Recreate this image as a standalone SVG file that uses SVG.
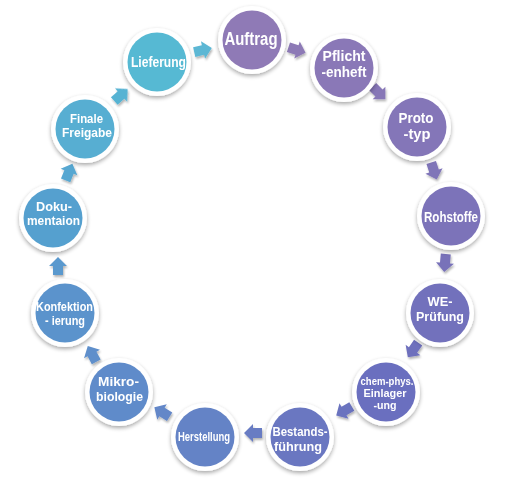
<svg xmlns="http://www.w3.org/2000/svg" width="510" height="490" viewBox="0 0 510 490">
<defs>
<filter id="sh" x="-30%" y="-30%" width="160%" height="170%">
<feGaussianBlur in="SourceAlpha" stdDeviation="2"/>
<feOffset dx="0" dy="2" result="b"/>
<feComponentTransfer><feFuncA type="linear" slope="0.35"/></feComponentTransfer>
<feMerge><feMergeNode/><feMergeNode in="SourceGraphic"/></feMerge>
</filter>
<filter id="ash" x="-40%" y="-40%" width="180%" height="180%">
<feGaussianBlur in="SourceAlpha" stdDeviation="1"/>
<feOffset dx="1" dy="1.5" result="b"/>
<feComponentTransfer><feFuncA type="linear" slope="0.3"/></feComponentTransfer>
<feMerge><feMergeNode/><feMergeNode in="SourceGraphic"/></feMerge>
</filter>
<path id="arr" d="M-9,-5 L0,-5 L0,-9 L9,0 L0,9 L0,5 L-9,5 Z"/>
</defs>
<style>
.ring{fill:#ffffff;filter:url(#sh)}
.t{font-family:"Liberation Sans",Arial,sans-serif;font-weight:bold;fill:#ffffff;text-anchor:middle}
</style>
<rect width="510" height="490" fill="#ffffff"/>
<g id="connectors" filter="url(#ash)">
<use href="#arr" transform="translate(203,50) rotate(-13)" fill="#5bb7d4"/>
<use href="#arr" transform="translate(297,50) rotate(18)" fill="#8d7ab6"/>
<use href="#arr" transform="translate(379,93) rotate(45)" fill="#8777b7"/>
<use href="#arr" transform="translate(434,171) rotate(72)" fill="#7f74b8"/>
<use href="#arr" transform="translate(445,263) rotate(95)" fill="#7872b9"/>
<use href="#arr" transform="translate(413,350) rotate(125)" fill="#6e70bd"/>
<use href="#arr" transform="translate(344,411) rotate(150)" fill="#6b73bf"/>
<use href="#arr" transform="translate(253,433) rotate(180)" fill="#677cc3"/>
<use href="#arr" transform="translate(162,412) rotate(-148)" fill="#6387c8"/>
<use href="#arr" transform="translate(92,354) rotate(-118)" fill="#5e8fcb"/>
<use href="#arr" transform="translate(58,266) rotate(-90)" fill="#5a99ce"/>
<use href="#arr" transform="translate(69,172) rotate(-68)" fill="#57a7d1"/>
<use href="#arr" transform="translate(121,95) rotate(-42)" fill="#56b3d3"/>
</g>
<g id="auftrag"><circle class="ring" cx="252" cy="40" r="34"/><circle cx="252" cy="40" r="29.5" fill="#8f7ab6"/><text class="t" font-size="18" x="251" y="45" textLength="53" lengthAdjust="spacingAndGlyphs">Auftrag</text></g>
<g id="pflichtenheft"><circle class="ring" cx="344" cy="68" r="34"/><circle cx="344" cy="68" r="29.5" fill="#8a78b7"/><text class="t" font-size="13.8" x="344" y="61" textLength="43" lengthAdjust="spacingAndGlyphs">Pflicht</text><text class="t" font-size="13.8" x="344" y="76.5" textLength="45" lengthAdjust="spacingAndGlyphs">-enheft</text></g>
<g id="prototyp"><circle class="ring" cx="417" cy="127" r="34"/><circle cx="417" cy="127" r="29.5" fill="#8476b8"/><text class="t" font-size="13.8" x="416" y="123" textLength="35" lengthAdjust="spacingAndGlyphs">Proto</text><text class="t" font-size="13.8" x="417" y="138.5" textLength="27" lengthAdjust="spacingAndGlyphs">-typ</text></g>
<g id="rohstoffe"><circle class="ring" cx="451" cy="216" r="34"/><circle cx="451" cy="216" r="29.5" fill="#7c73b9"/><text class="t" font-size="15" x="451" y="222" textLength="54" lengthAdjust="spacingAndGlyphs">Rohstoffe</text></g>
<g id="we-pruefung"><circle class="ring" cx="440" cy="313" r="34"/><circle cx="440" cy="313" r="29.5" fill="#7271bc"/><text class="t" font-size="12.8" x="440" y="306" textLength="25" lengthAdjust="spacingAndGlyphs">WE-</text><text class="t" font-size="12.8" x="440" y="320.5" textLength="48" lengthAdjust="spacingAndGlyphs">Prüfung</text></g>
<g id="chem-phys"><circle class="ring" cx="386" cy="392" r="34"/><circle cx="386" cy="392" r="29.5" fill="#6a6fbf"/><text class="t" font-size="10.5" x="387" y="385" textLength="53" lengthAdjust="spacingAndGlyphs">chem-phys.</text><text class="t" font-size="10.6" x="385" y="397" textLength="43" lengthAdjust="spacingAndGlyphs">Einlager</text><text class="t" font-size="10.6" x="385" y="409" textLength="23" lengthAdjust="spacingAndGlyphs">-ung</text></g>
<g id="bestandsfuehrung"><circle class="ring" cx="300" cy="437" r="34"/><circle cx="300" cy="437" r="29.5" fill="#6a77c1"/><text class="t" font-size="12.8" x="300" y="436" textLength="55" lengthAdjust="spacingAndGlyphs">Bestands-</text><text class="t" font-size="12.8" x="298" y="450.5" textLength="48" lengthAdjust="spacingAndGlyphs">führung</text></g>
<g id="herstellung"><circle class="ring" cx="205" cy="437" r="34"/><circle cx="205" cy="437" r="29.5" fill="#6483c6"/><text class="t" font-size="12" x="204" y="441" textLength="52" lengthAdjust="spacingAndGlyphs">Herstellung</text></g>
<g id="mikrobiologie"><circle class="ring" cx="119" cy="392" r="34"/><circle cx="119" cy="392" r="29.5" fill="#5f8bca"/><text class="t" font-size="13.3" x="118.5" y="386" textLength="41" lengthAdjust="spacingAndGlyphs">Mikro-</text><text class="t" font-size="13.3" x="119.5" y="401" textLength="47" lengthAdjust="spacingAndGlyphs">biologie</text></g>
<g id="konfektionierung"><circle class="ring" cx="65" cy="313" r="34"/><circle cx="65" cy="313" r="29.5" fill="#5b93cc"/><text class="t" font-size="12" x="64.5" y="311" textLength="57" lengthAdjust="spacingAndGlyphs">Konfektion</text><text class="t" font-size="12" x="65" y="324.5" textLength="40" lengthAdjust="spacingAndGlyphs">- ierung</text></g>
<g id="dokumentaion"><circle class="ring" cx="53" cy="218" r="34"/><circle cx="53" cy="218" r="29.5" fill="#55a0cf"/><text class="t" font-size="12.5" x="54" y="211" textLength="36" lengthAdjust="spacingAndGlyphs">Doku-</text><text class="t" font-size="12.5" x="53.5" y="225" textLength="53" lengthAdjust="spacingAndGlyphs">mentaion</text></g>
<g id="finale-freigabe"><circle class="ring" cx="85" cy="129" r="34"/><circle cx="85" cy="129" r="29.5" fill="#57aed2"/><text class="t" font-size="12" x="86.5" y="123" textLength="33" lengthAdjust="spacingAndGlyphs">Finale</text><text class="t" font-size="12" x="87" y="136.5" textLength="50" lengthAdjust="spacingAndGlyphs">Freigabe</text></g>
<g id="lieferung"><circle class="ring" cx="157" cy="62" r="34"/><circle cx="157" cy="62" r="29.5" fill="#56b9d3"/><text class="t" font-size="15" x="158.5" y="67" textLength="55" lengthAdjust="spacingAndGlyphs">Lieferung</text></g>
</svg>
